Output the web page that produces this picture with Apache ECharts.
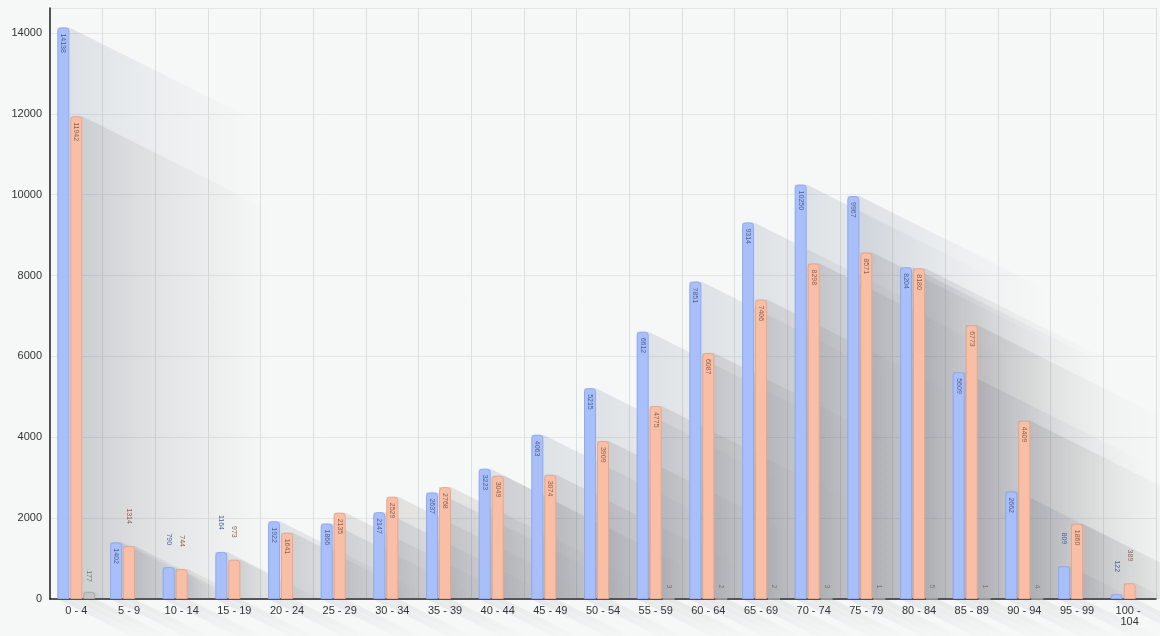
<!DOCTYPE html>
<html>
<head>
<meta charset="utf-8">
<script src="https://cdn.jsdelivr.net/npm/echarts@6/dist/echarts.min.js"></script>
<style>
html,body{margin:0;padding:0;background:#f6f8f7;}
#chart{width:1160px;height:636px;}
</style>
</head>
<body>
<div id="chart"></div>
<script>
const categories = ['0 - 4','5 - 9','10 - 14','15 - 19','20 - 24','25 - 29','30 - 34','35 - 39','40 - 44','45 - 49','50 - 54','55 - 59','60 - 64','65 - 69','70 - 74','75 - 79','80 - 84','85 - 89','90 - 94','95 - 99','100 - 104'];
const blueValues = [14138,1402,790,1164,1922,1866,2147,2637,3223,4063,5215,6612,7851,9314,10250,9967,8204,5609,2662,809,122];
const orangeValues = [11942,1314,744,973,1641,2135,2529,2768,3049,3074,3909,4775,6087,7406,8298,8571,8180,6773,4409,1860,389];
const grayValues = [177,null,null,null,null,null,null,null,null,null,null,3,2,2,3,1,5,1,4,null,null];
const yTicks = [0,2000,4000,6000,8000,10000,12000,14000];

const BAR_W = 12, BAR_STEP = 13;
const FLOAT_LIMIT = 1350;

function makeData(values, dist) {
  return values.map(v => {
    if (v == null) return null;
    if (v < FLOAT_LIMIT) {
      return {value: v, label: {position: 'top', align: 'right', verticalAlign: 'middle', distance: dist}};
    }
    return v;
  });
}

function barSeries(name, values, fill, border, labelColor, dist) {
  return {
    name: name, type: 'bar', barWidth: BAR_W, barGap: '8%', z: 3,
    data: makeData(values, dist),
    itemStyle: {color: fill, borderColor: border, borderWidth: 1, borderRadius: [3,3,0,0]},
    label: {show: true, position: 'insideTop', rotate: -90, align: 'left', verticalAlign: 'middle',
      distance: 6, fontSize: 7, color: labelColor, fontFamily: 'Liberation Sans, Arial'}
  };
}

function shadowSeries(values, idx, rgb) {
  return {
    type: 'custom', z: 1, silent: true, clip: false,
    data: values.map((v,i) => [i, v == null ? 0 : v]),
    renderItem: function(params, api) {
      const i = api.value(0), v = api.value(1);
      if (!v) return;
      const top = api.coord([i, v]);
      const base = api.coord([i, 0]);
      const xl = top[0] + (idx - 1) * BAR_STEP - BAR_W / 2;
      const xr = xl + BAR_W;
      const yt = top[1], yb = base[1];
      const L = 190, s = 0.5;
      let pts;
      if (yt + L * s < yb) {
        pts = [[xl, yt], [xr, yt], [xr + L, yt + L * s], [xr + L, yb], [xl, yb]];
      } else {
        const dx = (yb - yt) / s;
        pts = [[xl, yt], [xr, yt], [xr + dx, yb], [xl, yb]];
      }
      const below = [[xl, yb], [xr, yb], [xr + 80, yb + 40], [xl + 80, yb + 40]];
      return {type: 'group', children: [
        {type: 'polygon', shape: {points: pts}, style: {fill: new echarts.graphic.LinearGradient(0,0,1,0,[
          {offset: 0, color: 'rgba(' + rgb + ',0.15)'},
          {offset: 0.5, color: 'rgba(' + rgb + ',0.06)'},
          {offset: 1, color: 'rgba(' + rgb + ',0)'}])}},
        {type: 'polygon', shape: {points: below}, style: {fill: new echarts.graphic.LinearGradient(0,0,1,1,[
          {offset: 0, color: 'rgba(' + rgb + ',0.10)'},
          {offset: 1, color: 'rgba(' + rgb + ',0)'}])}}
      ]};
    }
  };
}

const chart = echarts.init(document.getElementById('chart'));
chart.setOption({
  backgroundColor: '#f6f8f7',
  animation: false,
  grid: {left: 50, right: 4, top: 8, bottom: 37},
  xAxis: {
    type: 'category', data: categories,
    axisLine: {lineStyle: {color: '#222', width: 1.5}},
    axisTick: {show: false},
    splitLine: {show: true, lineStyle: {color: '#dcdfdf'}},
    axisLabel: {color: '#333', fontSize: 11, fontFamily: 'Liberation Sans, Arial', margin: 6,
      width: 46, overflow: 'break', interval: 0}
  },
  yAxis: {
    type: 'value', min: 0, max: 14618, interval: 2000,
    axisLine: {show: true, lineStyle: {color: '#222', width: 1.5}},
    axisTick: {show: false},
    splitLine: {lineStyle: {color: '#e3e6e6'}},
    axisLabel: {color: '#333', fontSize: 11, fontFamily: 'Liberation Sans, Arial', margin: 8, showMaxLabel: false,
      formatter: v => yTicks.indexOf(v) >= 0 ? String(v) : ''}
  },
  series: [
    shadowSeries(blueValues, 0, '70,85,120'),
    shadowSeries(orangeValues, 1, '90,80,80'),
    shadowSeries(grayValues, 2, '90,90,90'),
    barSeries('blue', blueValues, '#a9bff9', '#8ea9ef', '#4d5f8f', 22),
    barSeries('orange', orangeValues, '#f8bfa6', '#e9a68a', '#8d5e4a', 22),
    barSeries('gray', grayValues, '#c4c4c4', '#aaaaaa', '#777777', 10)
  ]
});
</script>
</body>
</html>
